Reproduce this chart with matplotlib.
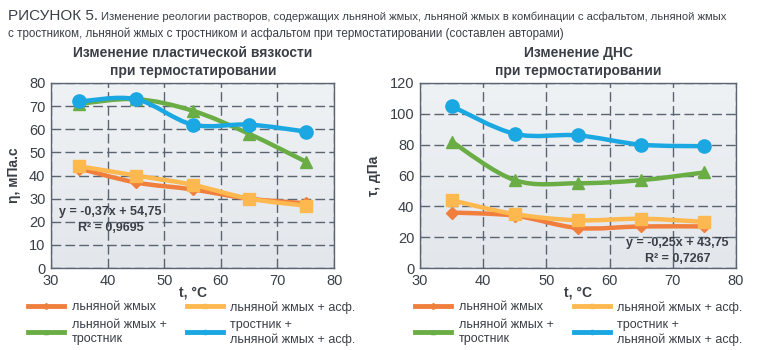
import numpy as np
import matplotlib.pyplot as plt
from matplotlib.path import Path
from matplotlib.patches import PathPatch
from matplotlib.lines import Line2D
from matplotlib.colors import LinearSegmentedColormap

plt.rcParams['font.family'] = ['Liberation Sans', 'DejaVu Sans']

temps = [35, 45, 55, 65, 75]

# пластическая вязкость, мПа.с
visc_flax = [43, 37, 34, 30, 28]
visc_flax_asph = [44, 40, 36, 30, 27]
visc_flax_reed = [71, 73, 68, 58, 46]
visc_reed_flax_asph = [72, 73, 62, 62, 59]

# ДНС, дПа
dns_flax = [36, 34, 26, 27, 27]
dns_flax_asph = [44, 35, 31, 32, 30]
dns_flax_reed = [82, 57, 55, 57, 62]
dns_reed_flax_asph = [105, 87, 86, 80, 79]

labels = ['льняной жмых', 'льняной жмых + асф.',
          'льняной жмых +\nтростник', 'тростник +\nльняной жмых + асф.']
colors = ['#f07e3c', '#fdb94f', '#6aad45', '#1ba7e1']
markers = ['D', 's', '^', 'o']
msizes = [6, 9, 9, 9.5]

txt = '#3a3f47'
grid_c = '#5b6572'


def smooth(ax, x, y, color):
    # excel-style smoothed line, bezier control points from neighbours
    pts = np.column_stack([x, y]).astype(float)
    n = len(pts)
    verts = [pts[0]]
    codes = [Path.MOVETO]
    for i in range(n - 1):
        p0 = pts[i - 1] if i > 0 else pts[i]
        p1, p2 = pts[i], pts[i + 1]
        p3 = pts[i + 2] if i + 2 < n else pts[i + 1]
        verts += [p1 + (p2 - p0) / 6, p2 - (p3 - p1) / 6, p2]
        codes += [Path.CURVE4] * 3
    ax.add_patch(PathPatch(Path(verts, codes), fc='none', ec=color, lw=3.2,
                           capstyle='round', joinstyle='round', zorder=3))


def panel(ax, series, ymax, ystep, ylabel, leg_x):
    grad = np.linspace(0, 1, 100).reshape(-1, 1)
    ax.imshow(grad, extent=[30, 80, 0, ymax], aspect='auto', origin='upper',
              cmap=LinearSegmentedColormap.from_list('bg', ['#eff2f5', '#e3e7eb']),
              zorder=0)
    for ys, c, m, ms in zip(series, colors, markers, msizes):
        smooth(ax, temps, ys, c)
        ax.plot(temps, ys, ls='none', marker=m, ms=ms, color=c, mec=c, zorder=4)
    ax.set_xlim(30, 80)
    ax.set_ylim(0, ymax)
    ax.set_xticks(range(30, 81, 10))
    ax.set_yticks(range(0, ymax + 1, ystep))
    ax.grid(True, color=grid_c, lw=1, ls=(0, (7, 3)), zorder=1)
    ax.set_axisbelow(True)
    for s in ax.spines.values():
        s.set_color(grid_c)
        s.set_linewidth(1)
    ax.tick_params(length=0, labelsize=10.5, colors=txt, pad=4)
    ax.set_ylabel(ylabel, fontsize=10, fontweight='bold', color=txt, labelpad=6)
    ax.set_xlabel('t, °C', fontsize=10, fontweight='bold', color=txt)
    ax.xaxis.set_label_coords(0.5, -0.095)
    order = [0, 2, 1, 3]
    hs = [Line2D([], [], color=colors[i], lw=3.5, marker=markers[i], ms=3) for i in order]
    fig.legend(hs, [labels[i] for i in order], ncol=2, loc='upper left',
               bbox_to_anchor=(leg_x, 0.14), frameon=False, fontsize=9,
               handlelength=2.9, columnspacing=1.6, labelspacing=0.45,
               handletextpad=0.6, labelcolor=txt, borderaxespad=0, borderpad=0)


fig = plt.figure(figsize=(7.65, 3.5), dpi=100)
ax1 = fig.add_axes([0.0667, 0.234, 0.37, 0.529])
ax2 = fig.add_axes([0.549, 0.234, 0.413, 0.529])

panel(ax1, [visc_flax, visc_flax_asph, visc_flax_reed, visc_reed_flax_asph], 80, 10,
      'η, мПа.с', 28 / 765)
panel(ax2, [dns_flax, dns_flax_asph, dns_flax_reed, dns_reed_flax_asph], 120, 20,
      'τ, дПа', 415 / 765)

ax1.text(0.21, 0.26, 'y = -0,37x + 54,75\nR² = 0,9695', transform=ax1.transAxes,
         ha='center', va='center', fontsize=9, fontweight='bold', color=txt,
         linespacing=1.4, zorder=5)
ax2.text(0.815, 0.092, 'y = -0,25x + 43,75\nR² = 0,7267', transform=ax2.transAxes,
         ha='center', va='center', fontsize=9, fontweight='bold', color=txt,
         linespacing=1.4, zorder=5)

fig.text(0.252, 0.822, 'Изменение пластической вязкости\nпри термостатировании',
         ha='center', va='center', fontsize=10, fontweight='bold', color=txt,
         linespacing=1.4)
fig.text(0.756, 0.822, 'Изменение ДНС\nпри термостатировании',
         ha='center', va='center', fontsize=10, fontweight='bold', color=txt,
         linespacing=1.4)

# header: fit each line to the width it has in the original
renderer = fig.canvas.get_renderer()
head = fig.text(8 / 765, 0.955, 'РИСУНОК 5.', fontsize=11, color=txt, va='center')
x_after = head.get_window_extent(renderer).x1 + 3
lines = [
    ('Изменение реологии растворов, содержащих льняной жмых, льняной жмых в комбинации с асфальтом, льняной жмых',
     x_after, 730, 0.952),
    ('с тростником, льняной жмых с тростником и асфальтом при термостатировании (составлен авторами)',
     8, 565, 0.905),
]
for s, x0, x1, y in lines:
    t = fig.text(x0 / 765, y, s, fontsize=9, color=txt, va='center')
    w = t.get_window_extent(renderer).width
    t.set_fontsize(9 * (x1 - x0) / w)

fig.savefig('out.png', dpi=100)
